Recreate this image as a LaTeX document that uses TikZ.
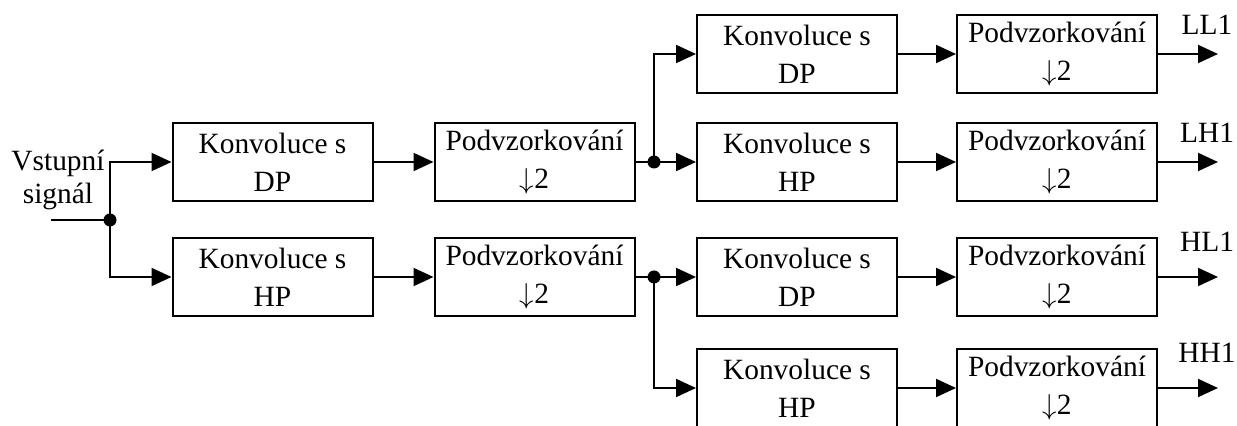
\documentclass[tikz,border=0pt]{standalone}
\usepackage{fontspec}
\setmainfont{Liberation Serif}
\usetikzlibrary{arrows.meta}
\begin{document}
\begin{tikzpicture}[x=0.5pt,y=-0.5pt,
    blok/.style={draw, line width=1pt, minimum width=100pt, minimum height=39pt,
      inner sep=0pt, align=center, font=\fontsize{14.7}{19}\selectfont},
    popis/.style={align=center, inner sep=0pt, font=\fontsize{14.7}{16.5}\selectfont},
    sipka/.style={-{Triangle[length=10pt,width=9pt]}, line width=1pt},
    cara/.style={line width=1pt},
    uzel/.style={circle, fill, inner sep=0pt, minimum size=6.5pt}]
    \useasboundingbox (0,0) rectangle (1237,426);

    % Vstup
    \node[popis] (vstlabel) at (58,180) {Vstupní\\signál};
    \coordinate (vstup) at (51,220);
    \node[uzel] (j0) at (110,220) {};

    % Prvni uroven
    \node[blok] (kdp) at (272.5,162) {Konvoluce s\\DP};
    \node[blok] (khp) at (272.5,277) {Konvoluce s\\HP};
    \node[blok] (pl) at (534.5,162) {Podvzorkování\\$\downarrow$2};
    \node[blok] (ph) at (534.5,277) {Podvzorkování\\$\downarrow$2};
    \node[uzel] (j1) at (654,162) {};
    \node[uzel] (j2) at (654,277) {};

    % Druha uroven
    \node[blok] (kll) at (797,54) {Konvoluce s\\DP};
    \node[blok] (klh) at (797,162) {Konvoluce s\\HP};
    \node[blok] (khl) at (797,277) {Konvoluce s\\DP};
    \node[blok] (khh) at (797,388) {Konvoluce s\\HP};
    \node[blok] (pll) at (1057,54) {Podvzorkování\\$\downarrow$2};
    \node[blok] (plh) at (1057,162) {Podvzorkování\\$\downarrow$2};
    \node[blok] (phl) at (1057,277) {Podvzorkování\\$\downarrow$2};
    \node[blok] (phh) at (1057,388) {Podvzorkování\\$\downarrow$2};

    % Vystupy
    \coordinate (oll) at (1218,54);
    \coordinate (olh) at (1218,162);
    \coordinate (ohl) at (1218,277);
    \coordinate (ohh) at (1218,388);
    \node[popis] (ll) at (1207,25) {LL1};
    \node[popis] (lh) at (1207,133) {LH1};
    \node[popis] (hl) at (1207,242) {HL1};
    \node[popis] (hh) at (1207,353) {HH1};

    % Spoje
    \draw[cara] (vstup) -- (j0.center);
    \draw[sipka] (j0.center) |- (kdp.west);
    \draw[sipka] (j0.center) |- (khp.west);
    \draw[sipka] (kdp) -- (pl);
    \draw[sipka] (khp) -- (ph);
    \draw[cara] (pl.east) -- (j1.center);
    \draw[cara] (ph.east) -- (j2.center);
    \draw[sipka] (j1.center) |- (kll.west);
    \draw[sipka] (j1.center) -- (klh.west);
    \draw[sipka] (j2.center) -- (khl.west);
    \draw[sipka] (j2.center) |- (khh.west);
    \draw[sipka] (kll) -- (pll);
    \draw[sipka] (klh) -- (plh);
    \draw[sipka] (khl) -- (phl);
    \draw[sipka] (khh) -- (phh);
    \draw[sipka] (pll) -- (oll);
    \draw[sipka] (plh) -- (olh);
    \draw[sipka] (phl) -- (ohl);
    \draw[sipka] (phh) -- (ohh);
\end{tikzpicture}
\end{document}
